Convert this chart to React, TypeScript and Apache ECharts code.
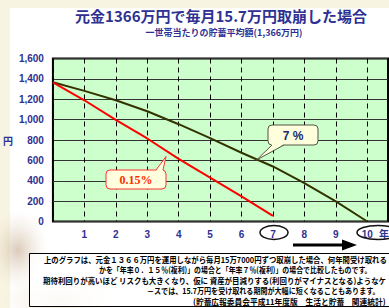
import React, { useEffect, useRef } from "react";
import * as echarts from "echarts";

const years = [0, 1, 2, 3, 4, 5, 6, 7, 8, 9, 10];
const rate7Values = [1366, 1282, 1190, 1082, 955, 818, 675, 540, 376, 198, 0];
const rate015Values = [1366, 1190, 997, 815, 615, 430, 246, 55];
const yTicks = [0, 200, 400, 600, 800, 1000, 1200, 1400, 1600];
const titleText = "元金1366万円で毎月15.7万円取崩した場合";
const subtitleText = "一世帯当たりの貯蓄平均額(1,366万円)";
const noteLines = [
  "上のグラフは、元金１３６６万円を運用しながら毎月15万7000円ずつ取崩した場合、何年間受け取れる",
  "かを「年率０．１５％(複利)」の場合と「年率７％(複利)」の場合で比較したものです。",
  "期待利回りが高いほど リスクも大きくなり、仮に 資産が目減りする(利回りがマイナスとなる)ようなケ",
  "－スでは、15.7万円を受け取れる期間が大幅に短くなることもあります。",
  "(貯蓄広報委員会平成11年度版　生活と貯蓄　関連統計)",
];

const NAVY = "#2e3192";
const JP = "'Noto Sans CJK JP', 'Noto Sans', sans-serif";
const LAT = "'Liberation Sans', Arial, sans-serif";

export default function App() {
  const ref = useRef<HTMLDivElement>(null);
  useEffect(() => {
    document.body.style.margin = "0";
    const chart = echarts.init(ref.current!, null, { renderer: "svg" });
    const noteX0 = [44, 99, 43, 147, 193];
    const noteX1 = [387, 372, 387, 380, 386];
    const noteY = [259.5, 269.5, 280, 290.5, 301];
    const noteFont = `bold 8px ${JP}`;
    const ctx = document.createElement("canvas").getContext("2d")!;
    ctx.font = noteFont;
    const noteScale = noteLines.map((t, i) => {
      const w = ctx.measureText(t).width || 1;
      return (noteX1[i] - noteX0[i]) / w;
    });
    chart.setOption({
      animation: false,
      backgroundColor: "#ffffff",
      grid: {
        left: 51,
        right: 1,
        top: 58.5,
        height: 163,
        show: true,
        backgroundColor: "#ccffcc",
        borderColor: "#000",
        borderWidth: 2,
      },
      xAxis: {
        type: "value",
        min: 0,
        max: 10.66,
        interval: 1,
        axisLine: { show: false },
        axisTick: { show: false },
        axisLabel: {
          showMaxLabel: false,
          margin: 8,
          color: NAVY,
          fontFamily: LAT,
          fontWeight: "bold",
          fontSize: 10,
          formatter: (v: number) => (v >= 1 && v <= 10 && Number.isInteger(v) ? String(v) : ""),
        },
        splitLine: { show: true, lineStyle: { color: "#000", width: 1, type: [5, 4] } },
      },
      yAxis: {
        type: "value",
        min: yTicks[0],
        max: yTicks[yTicks.length - 1],
        interval: 200,
        name: "円",
        nameLocation: "middle",
        nameRotate: 0,
        nameGap: 38,
        nameTextStyle: { color: NAVY, fontFamily: JP, fontWeight: "bold", fontSize: 10 },
        axisLine: { show: false },
        axisTick: { show: false },
        axisLabel: {
          margin: 9,
          color: NAVY,
          fontFamily: LAT,
          fontWeight: "bold",
          fontSize: 10,
          formatter: (v: number) =>
            v >= 1000 ? `${Math.floor(v / 1000)},${String(v % 1000).padStart(3, "0")}` : String(v),
        },
        splitLine: { show: true, lineStyle: { color: "#333", width: 1 } },
      },
      series: [
        {
          name: "7%",
          type: "line",
          showSymbol: false,
          data: years.map((y, i) => [y, rate7Values[i]]),
          lineStyle: { color: "#333300", width: 2 },
          itemStyle: { color: "#333300" },
          z: 3,
        },
        {
          name: "0.15%",
          type: "line",
          showSymbol: false,
          data: rate015Values.map((v, i) => [years[i], v]),
          lineStyle: { color: "#ff0000", width: 2 },
          itemStyle: { color: "#ff0000" },
          z: 4,
        },
      ],
      graphic: [
        { type: "rect", z: -10, shape: { x: 0, y: 0, width: 389, height: 8 }, style: { fill: "#f8f4e2" } },
        { type: "rect", z: -10, shape: { x: 0, y: 0, width: 10, height: 308 }, style: { fill: "#f8f4e2" } },
        {
          type: "ellipse",
          z: -5,
          shape: { cx: 18, cy: 250, rx: 30, ry: 40 },
          style: {
            fill: new echarts.graphic.RadialGradient(0.5, 0.5, 0.5, [
              { offset: 0, color: "rgba(190,160,130,0.55)" },
              { offset: 1, color: "rgba(230,215,190,0)" },
            ]),
          },
        },
        {
          type: "ellipse",
          z: -5,
          shape: { cx: 60, cy: 300, rx: 60, ry: 25 },
          style: {
            fill: new echarts.graphic.RadialGradient(0.5, 0.5, 0.5, [
              { offset: 0, color: "rgba(225,205,175,0.6)" },
              { offset: 1, color: "rgba(240,230,210,0)" },
            ]),
          },
        },
        {
          type: "text",
          z: 50,
          style: {
            text: titleText,
            x: 221,
            y: 15.5,
            textAlign: "center",
            textVerticalAlign: "middle",
            fill: NAVY,
            font: `bold 15px ${JP}`,
          },
        },
        {
          type: "text",
          z: 50,
          style: {
            text: subtitleText,
            x: 224,
            y: 32,
            textAlign: "center",
            textVerticalAlign: "middle",
            fill: NAVY,
            font: `bold 9px ${JP}`,
          },
        },
        // 7% callout
        {
          type: "rect",
          z: 60,
          shape: { x: 268, y: 125, width: 50, height: 20, r: 4 },
          style: { fill: "#ffffdd", stroke: "#555544", lineWidth: 1 },
        },
        {
          type: "polygon",
          z: 61,
          shape: { points: [[272, 144], [284, 144], [256.5, 160]] },
          style: { fill: "#ffffdd" },
        },
        {
          type: "polyline",
          z: 62,
          shape: { points: [[272, 145], [256.5, 160], [284, 145]] },
          style: { stroke: "#555544", lineWidth: 1, fill: null },
        },
        {
          type: "text",
          z: 63,
          style: {
            text: "7 %",
            x: 293,
            y: 135.5,
            textAlign: "center",
            textVerticalAlign: "middle",
            fill: "#1a2a6c",
            font: `bold 12px ${LAT}`,
          },
        },
        // 0.15% callout
        {
          type: "rect",
          z: 60,
          shape: { x: 106, y: 170, width: 60, height: 19, r: 4 },
          style: { fill: "#ffffe0", stroke: "#ff3333", lineWidth: 1 },
        },
        {
          type: "polygon",
          z: 61,
          shape: { points: [[156, 171], [163, 171], [166, 156.5]] },
          style: { fill: "#ffffe0" },
        },
        {
          type: "polyline",
          z: 62,
          shape: { points: [[156, 170], [166, 156.5], [163, 170]] },
          style: { stroke: "#ff3333", lineWidth: 1, fill: null },
        },
        {
          type: "text",
          z: 63,
          style: {
            text: "0.15%",
            x: 136,
            y: 180,
            textAlign: "center",
            textVerticalAlign: "middle",
            fill: "#ff2a00",
            font: `bold 12px 'Liberation Serif', 'DejaVu Serif', serif`,
          },
        },
        // x-axis unit and circles
        {
          type: "text",
          z: 50,
          style: {
            text: "年",
            x: 379,
            y: 233,
            textVerticalAlign: "middle",
            fill: NAVY,
            font: `bold 10px ${JP}`,
          },
        },
        {
          type: "ellipse",
          z: 50,
          shape: { cx: 274, cy: 232.5, rx: 14, ry: 7 },
          style: { fill: null, stroke: "#111", lineWidth: 1.5 },
        },
        {
          type: "ellipse",
          z: 50,
          shape: { cx: 378, cy: 232.5, rx: 21, ry: 7 },
          style: { fill: null, stroke: "#111", lineWidth: 1.5 },
        },
        // arrow
        {
          type: "line",
          z: 50,
          shape: { x1: 293, y1: 245, x2: 344, y2: 245 },
          style: { stroke: "#000", lineWidth: 3 },
        },
        {
          type: "polygon",
          z: 50,
          shape: { points: [[342, 239.5], [357, 245], [342, 250.5]] },
          style: { fill: "#000" },
        },
        // note box
        {
          type: "rect",
          z: 40,
          shape: { x: 29.5, y: 253.5, width: 362, height: 53 },
          style: { fill: "rgba(255,255,255,0.82)", stroke: "#000", lineWidth: 1 },
        },
        ...noteLines.map((t, i) => ({
          type: "text",
          z: 45,
          x: noteX0[i],
          y: noteY[i],
          scaleX: noteScale[i],
          style: {
            text: t,
            x: 0,
            y: 0,
            textVerticalAlign: "middle",
            fill: "#000",
            font: noteFont,
          },
        })),
      ],
    });
    return () => chart.dispose();
  }, []);
  return <div ref={ref} style={{ position: "fixed", left: 0, top: 0, width: 389, height: 308 }} />;
}
